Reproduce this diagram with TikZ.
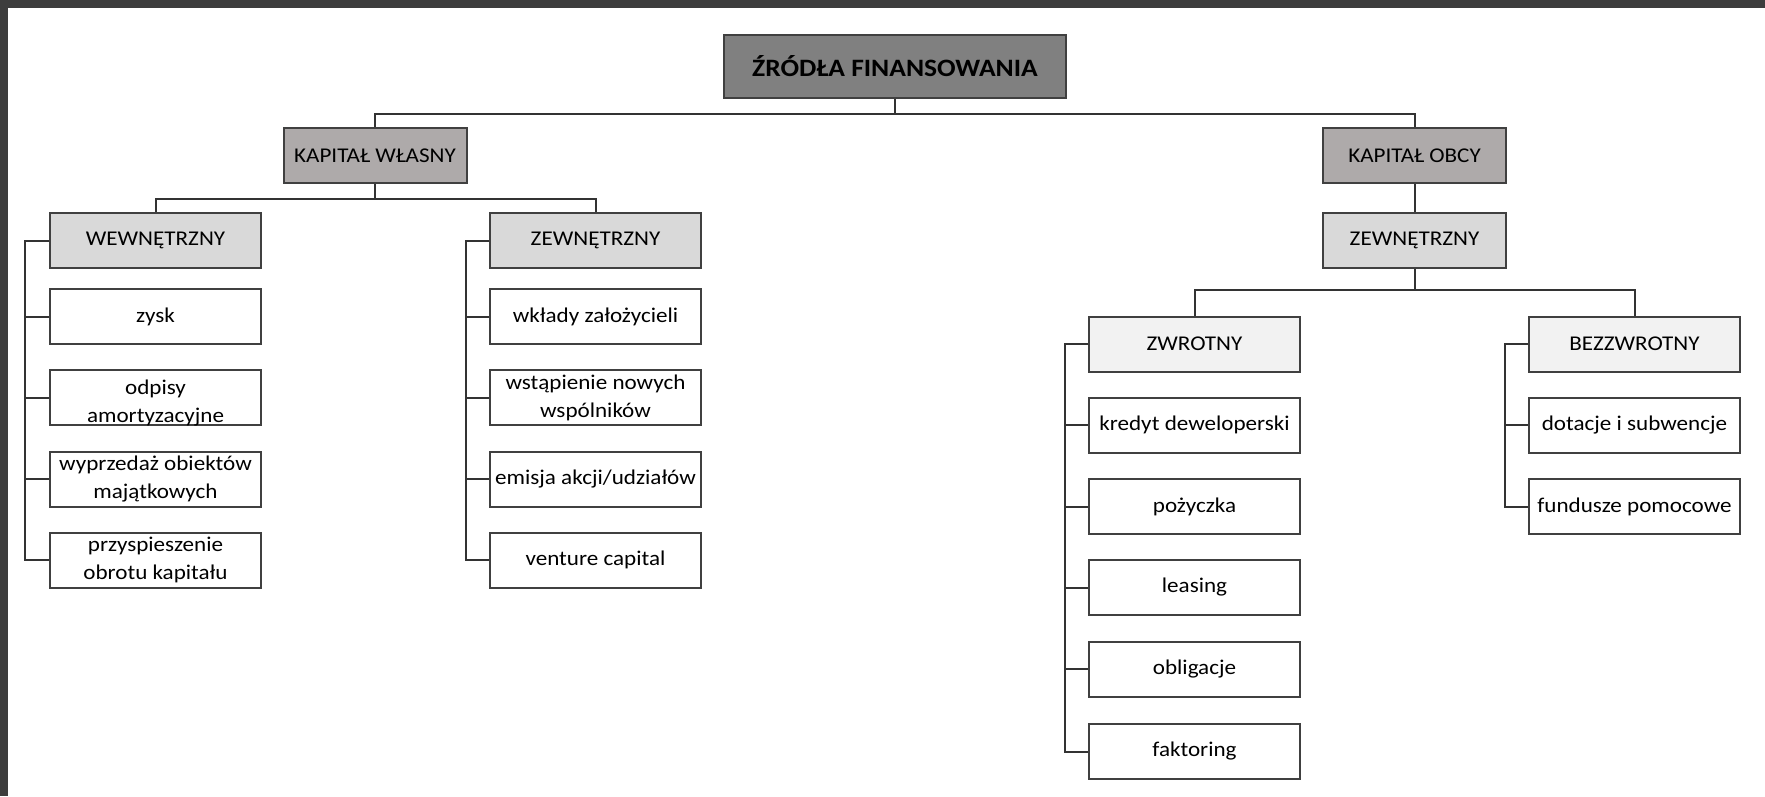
\documentclass[tikz,border=0pt]{standalone}
\usepackage{fontspec}
\setmainfont{Carlito}[FakeStretch=1.1]
\begin{document}
\begin{tikzpicture}[x=1pt,y=-1pt,
  box/.style={draw=black!75,line width=2pt,minimum width=211pt,minimum height=55pt,inner sep=0pt,align=center,font=\fontsize{21}{28}\selectfont},
  top/.style={box,fill=black!50,minimum width=342pt,minimum height=63pt,font=\fontsize{25}{28}\selectfont\bfseries},
  lvA/.style={box,fill=lvAcol,minimum width=183pt},
  lvB/.style={box,fill=black!15},
  lvC/.style={box,fill=black!5},
  leaf/.style={box,fill=white},
  conn/.style={draw=black!80,line width=2pt}]
\definecolor{lvAcol}{HTML}{AEAAAA}
\useasboundingbox (0,0) rectangle (1765,796);
\fill[black!76] (0,0) rectangle (1765,796);
\fill[white] (8,8) rectangle (1765,796);
% nodes
\node[top] (main) at (895,66.5) {ŹRÓDŁA FINANSOWANIA};
\node[lvA] (kw) at (375,155.5) {KAPITAŁ WŁASNY};
\node[lvA] (ko) at (1414.5,155.5) {KAPITAŁ OBCY};
\node[lvB] (wew) at (155.5,240.5) {WEWNĘTRZNY};
\node[lvB] (zewL) at (595.5,240.5) {ZEWNĘTRZNY};
\node[lvB,minimum width=183pt] (zewR) at (1414.5,240.5) {ZEWNĘTRZNY};
\node[leaf] (zysk) at (155.5,316.5) {zysk};
\node[leaf,text height=50pt,text depth=0pt] (odp) at (155.5,397.5) {odpisy\\amortyzacyjne};
\node[leaf] (wyp) at (155.5,479) {wyprzedaż obiektów\\majątkowych};
\node[leaf] (prz) at (155.5,560) {przyspieszenie\\obrotu kapitału};
\node[leaf] (wkl) at (595.5,316.5) {wkłady założycieli};
\node[leaf] (wst) at (595.5,397.5) {wstąpienie nowych\\wspólników};
\node[leaf] (emi) at (595.5,479) {emisja akcji/udziałów};
\node[leaf] (ven) at (595.5,560) {venture capital};
\node[lvC] (zwr) at (1194.5,344) {ZWROTNY};
\node[lvC] (bez) at (1634.5,344) {BEZZWROTNY};
\node[leaf] (kre) at (1194.5,425) {kredyt deweloperski};
\node[leaf] (poz) at (1194.5,506.5) {pożyczka};
\node[leaf] (lea) at (1194.5,587.5) {leasing};
\node[leaf] (obl) at (1194.5,669) {obligacje};
\node[leaf] (fak) at (1194.5,751.5) {faktoring};
\node[leaf] (dot) at (1634.5,425) {dotacje i subwencje};
\node[leaf] (fun) at (1634.5,506.5) {fundusze pomocowe};
% connectors
\draw[conn] (main.south) -- ++(0,15) -| (kw.north);
\draw[conn] (main.south) -- ++(0,15) -| (ko.north);
\draw[conn] (kw.south) -- ++(0,15) -| (wew.north);
\draw[conn] (kw.south) -- ++(0,15) -| (zewL.north);
\draw[conn] (ko.south) -- (zewR.north);
\draw[conn] (zewR.south) -- ++(0,21) -| (zwr.north);
\draw[conn] (zewR.south) -- ++(0,21) -| (bez.north);
\foreach \l in {zysk,odp,wyp,prz}{\draw[conn] (wew.west) -- ++(-24,0) |- (\l.west);}
\foreach \l in {wkl,wst,emi,ven}{\draw[conn] (zewL.west) -- ++(-23,0) |- (\l.west);}
\foreach \l in {kre,poz,lea,obl,fak}{\draw[conn] (zwr.west) -- ++(-23.5,0) |- (\l.west);}
\foreach \l in {dot,fun}{\draw[conn] (bez.west) -- ++(-23,0) |- (\l.west);}
\end{tikzpicture}
\end{document}
